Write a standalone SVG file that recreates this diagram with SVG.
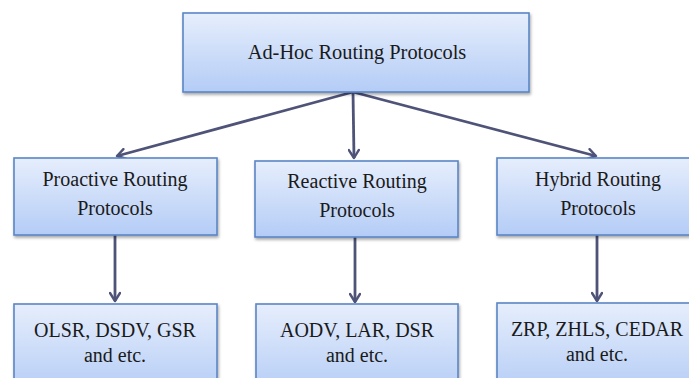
<svg xmlns="http://www.w3.org/2000/svg" width="689" height="378" viewBox="0 0 689 378">
<defs>
<linearGradient id="g" x1="0" y1="0" x2="0" y2="1">
<stop offset="0" stop-color="#e6eefc"/>
<stop offset="1" stop-color="#b4ccf6"/>
</linearGradient>
<filter id="sh" x="-10%" y="-10%" width="120%" height="130%">
<feDropShadow dx="1" dy="2" stdDeviation="1.5" flood-color="#000" flood-opacity="0.35"/>
</filter>
<marker id="ah" viewBox="0 0 12 12" refX="10" refY="6" markerWidth="12" markerHeight="12" markerUnits="userSpaceOnUse" orient="auto">
<path d="M2,1 L10,6 L2,11" fill="none" stroke="#4f5378" stroke-width="2.4" stroke-linejoin="round" stroke-linecap="round"/>
</marker>
</defs>
<style>
.box{fill:url(#g);stroke:#5a86c6;stroke-width:1.6;filter:url(#sh)}
.t{font-family:'Liberation Serif','DejaVu Serif',serif;fill:#1a1a1a;text-anchor:middle}
.c{stroke:#4f5378;stroke-width:2.8;fill:none;marker-end:url(#ah)}
</style>
<g id="connectors">
<line class="c" x1="353" y1="92" x2="117" y2="156"/>
<line class="c" x1="353" y1="92" x2="354" y2="158"/>
<line class="c" x1="353" y1="92" x2="596" y2="156"/>
<line class="c" x1="115" y1="235" x2="115" y2="301"/>
<line class="c" x1="355" y1="237" x2="355" y2="302"/>
<line class="c" x1="597" y1="235" x2="597" y2="301"/>
</g>
<g id="root">
<rect class="box" x="183" y="13" width="346" height="79"/>
<text class="t" x="357" y="59" font-size="20.4" font-family="Liberation Serif">Ad-Hoc Routing Protocols</text>
</g>
<g id="proactive">
<rect class="box" x="14" y="158" width="203" height="77"/>
<text class="t" x="115" y="186" font-size="20" font-family="Liberation Serif">Proactive Routing</text>
<text class="t" x="115" y="215" font-size="20" font-family="Liberation Serif">Protocols</text>
</g>
<g id="reactive">
<rect class="box" x="255" y="161" width="203" height="76"/>
<text class="t" x="357" y="188" font-size="20" font-family="Liberation Serif">Reactive Routing</text>
<text class="t" x="357" y="217" font-size="20" font-family="Liberation Serif">Protocols</text>
</g>
<g id="hybrid">
<rect class="box" x="497" y="158" width="200" height="77"/>
<text class="t" x="598" y="186" font-size="20" font-family="Liberation Serif">Hybrid Routing</text>
<text class="t" x="598" y="215" font-size="20" font-family="Liberation Serif">Protocols</text>
</g>
<g id="proactive-ex">
<rect class="box" x="14" y="304" width="203" height="90"/>
<text class="t" x="115" y="337" font-size="20" font-family="Liberation Serif">OLSR, DSDV, GSR</text>
<text class="t" x="115" y="362" font-size="20" font-family="Liberation Serif">and etc.</text>
</g>
<g id="reactive-ex">
<rect class="box" x="256" y="304" width="202" height="90"/>
<text class="t" x="357" y="337" font-size="20" font-family="Liberation Serif">AODV, LAR, DSR</text>
<text class="t" x="357" y="362" font-size="20" font-family="Liberation Serif">and etc.</text>
</g>
<g id="hybrid-ex">
<rect class="box" x="497" y="303" width="200" height="90"/>
<text class="t" x="597" y="336" font-size="20" font-family="Liberation Serif">ZRP, ZHLS, CEDAR</text>
<text class="t" x="597" y="361" font-size="20" font-family="Liberation Serif">and etc.</text>
</g>
</svg>
